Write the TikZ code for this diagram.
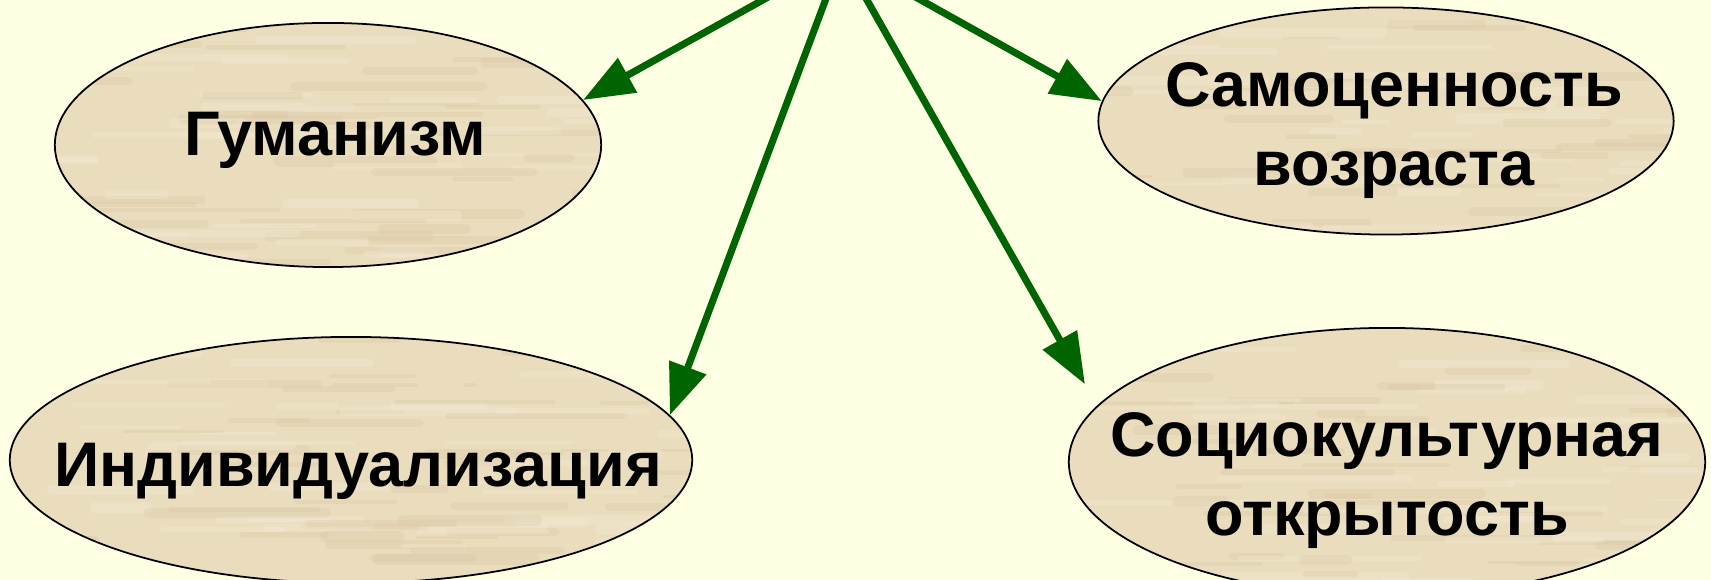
\documentclass[tikz,border=0pt]{standalone}
\usepackage{fontspec}
\setmainfont{Liberation Sans}
\usetikzlibrary{arrows.meta,shapes.geometric}
\definecolor{bg}{RGB}{255,255,228}
\definecolor{parch}{RGB}{234,221,190}
\definecolor{parchlight}{RGB}{245,236,213}
\definecolor{parchdark}{RGB}{216,199,164}
\definecolor{arrowgreen}{RGB}{0,100,0}
\tikzset{
  texture/.style={path picture={
    \pgfmathsetseed{#1}
    \foreach \k in {1,...,90}{
      \pgfmathsetmacro\dx{rand*340}
      \pgfmathsetmacro\dy{rand*135}
      \pgfmathsetmacro\len{40+rnd*150}
      \pgfmathsetmacro\lw{0.8+rnd*2.2}
      \pgfmathtruncatemacro\pick{mod(\k,2)}
      \ifnum\pick=0 \def\col{parchlight}\else\def\col{parchdark}\fi
      \draw[\col, line width=\lw pt, opacity=0.32, line cap=round]
        ([shift={(\dx,\dy)}]path picture bounding box.center) -- ++(\len,0);
    }}},
  oval/.style={ellipse, draw=black, line width=0.5pt, fill=parch, inner sep=0pt},
  lbl/.style={font=\bfseries\fontsize{17.9pt}{22.5pt}\selectfont, align=center, text=black, inner sep=0pt},
  link/.style={draw=arrowgreen, line width=2pt, -{Triangle[length=14.5pt,width=10.8pt]}}
}
\begin{document}
\begin{tikzpicture}[x=0.01cm,y=-0.01cm]
\useasboundingbox (0,0) rectangle (1711,580);
\fill[bg] (0,0) rectangle (1711,580);
\clip (0,0) rectangle (1711,580);

\node[oval, texture=3, minimum width=5.46cm, minimum height=2.44cm] (g) at (328,145) {};
\node[oval, texture=5, minimum width=6.82cm, minimum height=2.46cm] (i) at (351,460) {};
\node[oval, texture=7, minimum width=5.75cm, minimum height=2.27cm] (c) at (1386,121) {};
\node[oval, texture=9, minimum width=6.36cm, minimum height=2.68cm] (s) at (1387,462) {};

\node[lbl, anchor=base] (gt) at (335,156) {Гуманизм};
\node[lbl, anchor=base] (it) at (358,487) {Индивидуализация};
\node[lbl] (ct) at (1394,131) {Самоценность\\возраста};
\node[lbl] (st) at (1387,481) {Социокультурная\\открытость};

\coordinate (src) at (842,-44);
\draw[link] (src) -- (g.10);
\draw[link] (src) -- (i.8);
\draw[link, shorten >=7pt] (src) -- (s.169);
\draw[link] (src) -- (c.176);
\end{tikzpicture}
\end{document}
